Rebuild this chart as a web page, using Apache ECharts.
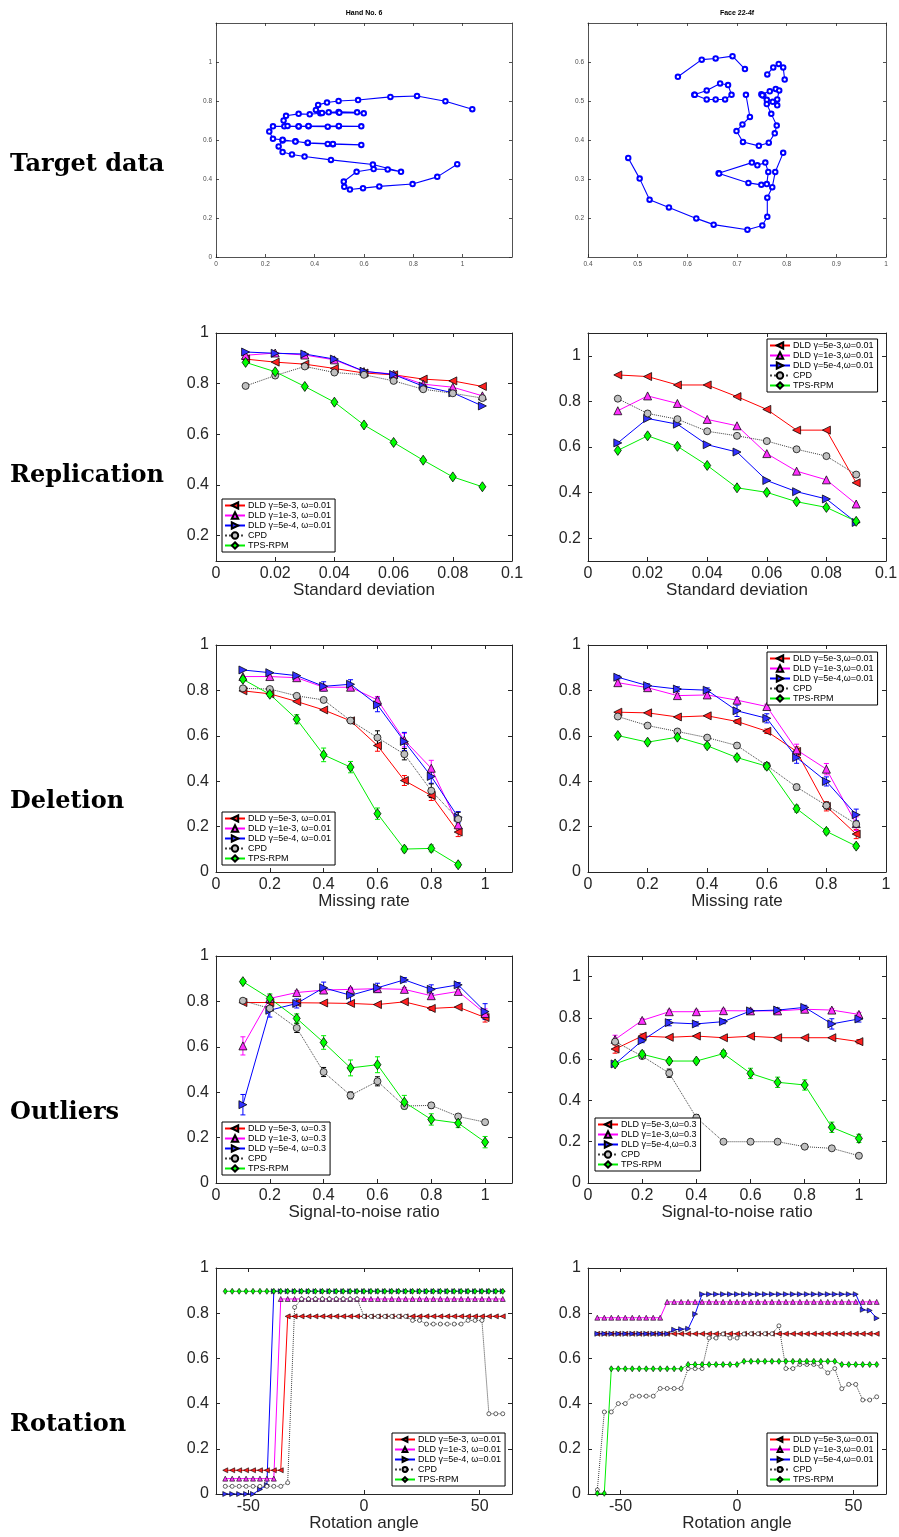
<!DOCTYPE html>
<html><head><meta charset="utf-8">
<script src="https://cdn.jsdelivr.net/npm/echarts@6/dist/echarts.min.js"></script>
<style>html,body{margin:0;padding:0;background:#fff}#c{width:899px;height:1537px}</style>
</head><body><div id="c"></div><script>
// ---------------- DATA ----------------
const handPts = [
 [0.978,0.476],[0.897,0.411],[0.797,0.374],[0.662,0.362],[0.596,0.353],[0.543,0.346],[0.520,0.360],[0.518,0.387],[0.570,0.437],[0.639,0.451],[0.696,0.449],[0.750,0.437],
 [0.636,0.474],[0.466,0.498],[0.359,0.515],[0.308,0.526],[0.270,0.538],[0.254,0.567],
 [0.270,0.597],[0.322,0.594],[0.372,0.584],[0.453,0.580],[0.474,0.578],[0.589,0.575],
 [0.474,0.580],[0.372,0.586],[0.322,0.592],[0.270,0.601],[0.231,0.606],[0.216,0.643],[0.231,0.670],
 [0.277,0.670],[0.335,0.669],[0.375,0.670],[0.453,0.668],[0.498,0.670],[0.589,0.670],
 [0.498,0.672],[0.375,0.672],[0.335,0.670],[0.290,0.672],[0.274,0.700],[0.284,0.724],[0.335,0.734],[0.380,0.732],
 [0.423,0.737],[0.457,0.742],[0.497,0.744],[0.572,0.742],[0.599,0.737],[0.500,0.740],[0.430,0.739],
 [0.405,0.754],[0.414,0.780],[0.450,0.792],[0.497,0.800],[0.576,0.805],[0.707,0.821],[0.815,0.826],[0.930,0.799],[1.039,0.758]
];
const faceBrowL = [[0.581,0.562],[0.629,0.606],[0.657,0.609],[0.691,0.615],[0.716,0.582]];
const faceBrowR = [[0.761,0.568],[0.773,0.586],[0.784,0.595],[0.793,0.586],[0.796,0.555]];
const faceEyeL = [[0.614,0.516],[0.639,0.527],[0.666,0.545],[0.682,0.541],[0.689,0.516],[0.676,0.504],[0.657,0.504],[0.639,0.504],[0.615,0.516]];
const faceEyeR = [[0.749,0.517],[0.766,0.525],[0.778,0.531],[0.785,0.527],[0.781,0.504],[0.781,0.489],[0.772,0.498],[0.760,0.503],[0.753,0.514]];
const faceNose = [[0.718,0.516],[0.726,0.459],[0.711,0.440],[0.699,0.423],[0.712,0.395],[0.744,0.385],[0.764,0.393],[0.776,0.417],[0.780,0.437],[0.769,0.467],[0.760,0.492],[0.751,0.515]];
const faceMouth = [[0.663,0.315],[0.730,0.342],[0.741,0.335],[0.757,0.342],[0.763,0.318],[0.760,0.287],[0.749,0.285],[0.723,0.290],[0.664,0.314]];
const faceJaw = [[0.481,0.354],[0.504,0.301],[0.524,0.247],[0.563,0.227],[0.618,0.199],[0.653,0.183],[0.721,0.170],[0.751,0.181],[0.761,0.203],[0.761,0.252],[0.771,0.279],[0.777,0.318],[0.793,0.367]];

const namesA = ['DLD \u03b3=5e-3, \u03c9=0.01','DLD \u03b3=1e-3, \u03c9=0.01','DLD \u03b3=5e-4, \u03c9=0.01','CPD','TPS-RPM'];
const namesB = ['DLD \u03b3=5e-3,\u03c9=0.01','DLD \u03b3=1e-3,\u03c9=0.01','DLD \u03b3=5e-4,\u03c9=0.01','CPD','TPS-RPM'];
const namesC = ['DLD \u03b3=5e-3, \u03c9=0.3','DLD \u03b3=1e-3, \u03c9=0.3','DLD \u03b3=5e-4, \u03c9=0.3','CPD','TPS-RPM'];
const namesD = ['DLD \u03b3=5e-3,\u03c9=0.3','DLD \u03b3=1e-3,\u03c9=0.3','DLD \u03b3=5e-4,\u03c9=0.3','CPD','TPS-RPM'];

const handXTicks = [0,0.2,0.4,0.6,0.8,1];
const handYTicks = [0,0.2,0.4,0.6,0.8,1];
const faceXTicks = [0.4,0.5,0.6,0.7,0.8,0.9,1];
const faceYTicks = [0.2,0.3,0.4,0.5,0.6];
const repXTicks = [0,0.02,0.04,0.06,0.08,0.1];
const repYTicks = [0.2,0.4,0.6,0.8,1];
const rateXTicks = [0,0.2,0.4,0.6,0.8,1];
const rateYTicks = [0,0.2,0.4,0.6,0.8,1];
const rotXTicks = [-50,0,50];

// Replication
const repX = [0.01,0.02,0.03,0.04,0.05,0.06,0.07,0.08,0.09];
const repL_dld5e3 = [0.897,0.885,0.877,0.860,0.842,0.835,0.818,0.811,0.789];
const repL_dld1e3 = [0.912,0.921,0.913,0.894,0.848,0.838,0.798,0.786,0.752];
const repL_dld5e4 = [0.925,0.920,0.917,0.897,0.849,0.836,0.790,0.764,0.712];
const repL_cpd    = [0.791,0.832,0.868,0.844,0.835,0.811,0.778,0.762,0.743];
const repL_tps    = [0.884,0.847,0.789,0.727,0.637,0.568,0.498,0.432,0.393];
const repR_dld5e3 = [0.916,0.909,0.872,0.872,0.821,0.765,0.674,0.674,0.443];
const repR_dld1e3 = [0.759,0.824,0.791,0.721,0.693,0.571,0.494,0.456,0.350];
const repR_dld5e4 = [0.618,0.725,0.700,0.610,0.578,0.453,0.404,0.372,0.269];
const repR_cpd    = [0.812,0.747,0.722,0.669,0.649,0.626,0.590,0.560,0.479];
const repR_tps    = [0.585,0.649,0.603,0.519,0.421,0.401,0.360,0.335,0.274];

// Deletion
const delX = [0.1,0.2,0.3,0.4,0.5,0.6,0.7,0.8,0.9];
const delL_dld5e3 = [0.798,0.785,0.751,0.714,0.666,0.557,0.403,0.337,0.176];
const delL_dld1e3 = [0.861,0.861,0.856,0.814,0.814,0.758,0.581,0.457,0.208];
const delL_dld5e4 = [0.890,0.878,0.865,0.818,0.827,0.736,0.575,0.421,0.241];
const delL_cpd    = [0.809,0.806,0.776,0.758,0.667,0.592,0.519,0.358,0.233];
const delL_tps    = [0.849,0.783,0.673,0.516,0.462,0.257,0.101,0.104,0.032];
const delL_dld5e3_err = [0.005,0.005,0.005,0.005,0.010,0.025,0.022,0.022,0.020];
const delL_dld1e3_err = [0.005,0.005,0.005,0.010,0.012,0.015,0.030,0.035,0.030];
const delL_dld5e4_err = [0.005,0.005,0.005,0.020,0.020,0.030,0.040,0.030,0.025];
const delL_cpd_err    = [0.008,0.005,0.008,0.010,0.010,0.030,0.025,0.030,0.030];
const delL_tps_err    = [0.008,0.010,0.020,0.030,0.025,0.025,0.012,0.015,0.010];
const delR_dld5e3 = [0.704,0.701,0.683,0.688,0.663,0.620,0.531,0.289,0.167];
const delR_dld1e3 = [0.834,0.812,0.777,0.780,0.757,0.729,0.538,0.453,0.213];
const delR_dld5e4 = [0.858,0.821,0.806,0.801,0.710,0.677,0.504,0.399,0.252];
const delR_cpd    = [0.685,0.645,0.619,0.592,0.557,0.469,0.374,0.293,0.211];
const delR_tps    = [0.601,0.572,0.594,0.556,0.504,0.466,0.279,0.179,0.114];
const delR_dld5e3_err = [0.005,0.005,0.005,0.005,0.008,0.010,0.020,0.020,0.020];
const delR_dld1e3_err = [0.008,0.010,0.010,0.010,0.010,0.010,0.025,0.025,0.030];
const delR_dld5e4_err = [0.008,0.008,0.010,0.010,0.025,0.020,0.025,0.020,0.025];
const delR_cpd_err    = [0.005,0.008,0.008,0.008,0.010,0.010,0.012,0.015,0.012];
const delR_tps_err    = [0.008,0.008,0.008,0.010,0.012,0.015,0.015,0.012,0.010];

// Outliers
const outX = [0.1,0.2,0.3,0.4,0.5,0.6,0.7,0.8,0.9,1.0];
const outL_dld5e3 = [0.795,0.795,0.794,0.793,0.791,0.786,0.798,0.769,0.775,0.729];
const outL_dld1e3 = [0.604,0.813,0.839,0.850,0.853,0.856,0.853,0.825,0.844,0.747];
const outL_dld5e4 = [0.345,0.761,0.791,0.860,0.827,0.860,0.895,0.853,0.873,0.755];
const outL_cpd    = [0.803,0.769,0.683,0.489,0.386,0.448,0.339,0.342,0.293,0.268];
const outL_tps    = [0.887,0.813,0.725,0.619,0.507,0.521,0.356,0.280,0.264,0.180];
const outL_dld5e3_err = [0.005,0.005,0.005,0.005,0.005,0.005,0.005,0.008,0.005,0.020];
const outL_dld1e3_err = [0.040,0.015,0.008,0.008,0.008,0.008,0.008,0.010,0.008,0.020];
const outL_dld5e4_err = [0.045,0.030,0.020,0.025,0.030,0.020,0.010,0.020,0.010,0.035];
const outL_cpd_err    = [0.010,0.010,0.020,0.020,0.015,0.020,0.010,0.012,0.010,0.010];
const outL_tps_err    = [0.008,0.020,0.020,0.030,0.035,0.035,0.030,0.025,0.020,0.025];
const outR_dld5e3 = [0.649,0.712,0.706,0.712,0.704,0.711,0.704,0.704,0.704,0.685];
const outR_dld1e3 = [0.696,0.788,0.830,0.830,0.835,0.834,0.834,0.842,0.838,0.817];
const outR_dld5e4 = [0.577,0.690,0.777,0.771,0.782,0.834,0.838,0.851,0.771,0.795];
const outR_cpd    = [0.685,0.615,0.532,0.317,0.200,0.200,0.200,0.176,0.168,0.132];
const outR_tps    = [0.577,0.624,0.591,0.591,0.627,0.531,0.488,0.475,0.270,0.216];
const outR_dld5e3_err = [0.020,0.010,0.005,0.005,0.005,0.005,0.005,0.005,0.005,0.010];
const outR_dld1e3_err = [0.020,0.008,0.008,0.008,0.008,0.008,0.008,0.008,0.008,0.010];
const outR_dld5e4_err = [0.010,0.010,0.015,0.010,0.010,0.008,0.010,0.010,0.025,0.015];
const outR_cpd_err    = [0.010,0.010,0.020,0.015,0.008,0.008,0.008,0.005,0.005,0.005];
const outR_tps_err    = [0.010,0.015,0.010,0.010,0.015,0.025,0.025,0.025,0.025,0.020];

// Rotation
const rotX = [-60,-57,-54,-51,-48,-45,-42,-39,-36,-33,-30,-27,-24,-21,-18,-15,-12,-9,-6,-3,0,3,6,9,12,15,18,21,24,27,30,33,36,39,42,45,48,51,54,57,60];
const rotL_dld5e3 = [0.105,0.105,0.105,0.105,0.105,0.105,0.105,0.105,0.105,0.786,0.786,0.786,0.786,0.786,0.786,0.786,0.786,0.786,0.786,0.786,0.786,0.786,0.786,0.786,0.786,0.786,0.786,0.786,0.786,0.786,0.786,0.786,0.786,0.786,0.786,0.786,0.786,0.786,0.786,0.786,0.786];
const rotL_dld1e3 = [0.068,0.068,0.068,0.068,0.068,0.068,0.068,0.068,0.863,0.863,0.863,0.863,0.863,0.863,0.863,0.863,0.863,0.863,0.863,0.863,0.863,0.863,0.863,0.863,0.863,0.863,0.863,0.863,0.863,0.863,0.863,0.863,0.863,0.863,0.863,0.863,0.863,0.863,0.863,0.863,0.863];
const rotL_dld5e4 = [0,0,0,0,0,0.02,0.04,0.897,0.897,0.897,0.897,0.897,0.897,0.897,0.897,0.897,0.897,0.897,0.897,0.897,0.897,0.897,0.897,0.897,0.897,0.897,0.897,0.897,0.897,0.897,0.897,0.897,0.897,0.897,0.897,0.897,0.897,0.897,0.897,0.897,0.897];
const rotL_cpd    = [0.034,0.034,0.034,0.034,0.034,0.034,0.034,0.034,0.034,0.05,0.826,0.863,0.863,0.863,0.863,0.863,0.863,0.863,0.863,0.863,0.786,0.786,0.786,0.786,0.786,0.786,0.786,0.768,0.768,0.752,0.752,0.752,0.752,0.752,0.752,0.768,0.768,0.768,0.355,0.355,0.355];
const rotL_tps    = [0.897,0.897,0.897,0.897,0.897,0.897,0.897,0.897,0.897,0.897,0.897,0.897,0.897,0.897,0.897,0.897,0.897,0.897,0.897,0.897,0.897,0.897,0.897,0.897,0.897,0.897,0.897,0.897,0.897,0.897,0.897,0.897,0.897,0.897,0.897,0.897,0.897,0.897,0.897,0.897,0.897];
const rotR_dld5e3 = [0.709,0.709,0.709,0.709,0.709,0.709,0.709,0.709,0.709,0.709,0.709,0.709,0.709,0.709,0.709,0.709,0.709,0.709,0.709,0.709,0.709,0.709,0.709,0.709,0.709,0.709,0.709,0.709,0.709,0.709,0.709,0.709,0.709,0.709,0.709,0.709,0.709,0.709,0.709,0.709,0.709];
const rotR_dld1e3 = [0.780,0.780,0.780,0.780,0.780,0.780,0.780,0.780,0.780,0.780,0.850,0.850,0.850,0.850,0.850,0.850,0.850,0.850,0.850,0.850,0.850,0.850,0.850,0.850,0.850,0.850,0.850,0.850,0.850,0.850,0.850,0.850,0.850,0.850,0.850,0.850,0.850,0.850,0.850,0.850,0.850];
const rotR_dld5e4 = [0.709,0.709,0.709,0.709,0.709,0.709,0.709,0.709,0.709,0.709,0.709,0.727,0.729,0.731,0.796,0.884,0.884,0.884,0.884,0.884,0.884,0.884,0.884,0.884,0.884,0.884,0.884,0.884,0.884,0.884,0.884,0.884,0.884,0.884,0.884,0.884,0.884,0.884,0.815,0.812,0.778];
const rotR_cpd    = [0.018,0.363,0.363,0.400,0.400,0.433,0.433,0.433,0.433,0.467,0.467,0.467,0.467,0.555,0.555,0.555,0.690,0.690,0.708,0.690,0.690,0.708,0.709,0.709,0.709,0.709,0.744,0.555,0.555,0.573,0.573,0.573,0.565,0.536,0.555,0.466,0.485,0.485,0.416,0.416,0.430];
const rotR_tps    = [0.003,0.003,0.554,0.554,0.554,0.554,0.554,0.554,0.554,0.554,0.554,0.554,0.554,0.573,0.573,0.573,0.573,0.573,0.573,0.573,0.573,0.587,0.587,0.587,0.587,0.587,0.587,0.587,0.587,0.587,0.587,0.587,0.587,0.587,0.587,0.573,0.573,0.573,0.573,0.573,0.573];

// ---------------- BUILD ----------------
const FONT = '"Liberation Sans", Arial, Helvetica, sans-serif';
const AX = '#262626';
const grids = [], xAxes = [], yAxes = [], series = [], legends = [];

function fmt(v){ return String(parseFloat(Number(v).toFixed(4))); }

function addAxes(p){
  const gi = grids.length;
  grids.push({left:p.left, top:p.top, width:p.width, height:p.height, containLabel:false, outerBoundsMode:'none'});
  const small = !!p.small;
  const fs = small ? 6.5 : 16;
  const lc = small ? '#4d4d4d' : AX;
  const lw = small ? 0.8 : 1;
  const tl = small ? 3 : 4;
  const xi = xAxes.length, yi = yAxes.length;
  const common = (ticks)=>({
    axisLine:{show:true, onZero:false, lineStyle:{color:AX, width:lw}},
    axisTick:{show:true, inside:true, length:tl, customValues:ticks, lineStyle:{color:AX, width:lw}},
    splitLine:{show:false}, minorTick:{show:false}
  });
  xAxes.push(Object.assign({type:'value', gridIndex:gi, position:'bottom', min:p.xMin, max:p.xMax,
    axisLabel:{show:true, customValues:p.xTicks, formatter:fmt, fontSize:fs, color:lc, fontFamily:FONT, margin:small?4:5},
    name:p.xName||'', nameLocation:'middle', nameGap:21, nameMoveOverlap:false,
    nameTextStyle:{fontSize:17, color:AX, fontFamily:FONT}}, common(p.xTicks)));
  xAxes.push(Object.assign({type:'value', gridIndex:gi, position:'top', min:p.xMin, max:p.xMax,
    axisLabel:{show:false}}, common(p.xTicks)));
  yAxes.push(Object.assign({type:'value', gridIndex:gi, position:'left', min:p.yMin, max:p.yMax,
    axisLabel:{show:true, customValues:p.yTicks, formatter:fmt, fontSize:fs, color:lc, fontFamily:FONT, margin:small?4:7}}, common(p.yTicks)));
  yAxes.push(Object.assign({type:'value', gridIndex:gi, position:'right', min:p.yMin, max:p.yMax,
    axisLabel:{show:false}}, common(p.yTicks)));
  return {xi, yi};
}

const methodStyles = [
  {line:'#ff0000', fill:'#ff2020', symbol:'triangle', rotate:90, size:8, rsize:5, type:'solid'},
  {line:'#ff00ff', fill:'#ff30ff', symbol:'triangle', rotate:0, size:8, rsize:5, type:'solid'},
  {line:'#0000ff', fill:'#3030ff', symbol:'triangle', rotate:-90, size:8, rsize:5, type:'solid'},
  {line:'#404040', fill:'#c0c0c0', symbol:'circle', rotate:0, size:7, rsize:4, type:'dotted'},
  {line:'#00ee00', fill:'#00ff00', symbol:'diamond', rotate:0, size:[7,10], rsize:[4,6], type:'solid'}
];

function errSeries(ax, xs, ys, errs, color){
  return {type:'custom', coordinateSystem:'cartesian2d', xAxisIndex:ax.xi, yAxisIndex:ax.yi, silent:true, z:1,
    data: xs.map((x,i)=>[x, ys[i]-errs[i], ys[i]+errs[i]]),
    renderItem:function(params, api){
      const x = api.value(0), lo = api.value(1), hi = api.value(2);
      if (hi - lo < 0.011) return null;
      const a = api.coord([x, lo]), b = api.coord([x, hi]);
      const cw = 2.5, st = {stroke:color, lineWidth:1};
      return {type:'group', children:[
        {type:'line', shape:{x1:a[0],y1:a[1],x2:b[0],y2:b[1]}, style:st},
        {type:'line', shape:{x1:a[0]-cw,y1:a[1],x2:a[0]+cw,y2:a[1]}, style:st},
        {type:'line', shape:{x1:b[0]-cw,y1:b[1],x2:b[0]+cw,y2:b[1]}, style:st}
      ]};
    }};
}

function addResultPanel(p){
  const ax = addAxes(p);
  if (p.errs) {
    p.ys.forEach((ys,k)=>{ series.push(errSeries(ax, p.xs, ys, p.errs[k], k===3 ? '#000' : methodStyles[k].line)); });
  }
  p.ys.forEach((ys,k)=>{
    const s = methodStyles[k];
    series.push({type:'line', name:p.names[k], xAxisIndex:ax.xi, yAxisIndex:ax.yi, z:2,
      data: p.xs.map((x,i)=>[x, ys[i]]),
      symbol:s.symbol, symbolRotate:s.rotate, symbolSize: p.rot ? s.rsize : s.size, showSymbol:true,
      lineStyle:{color:s.line, width:1, type:s.type},
      itemStyle:{color: (p.rot && k===3) ? '#ffffff' : s.fill, borderColor:'#000', borderWidth: p.rot ? 0.6 : 0.75},
      emphasis:{disabled:true}, animation:false});
  });
  legends.push({show:true, left:p.legend.left, top:p.legend.top, orient:'vertical', data:p.names,
    itemWidth:20, itemHeight: p.rot ? 6 : 8, itemGap:1, selectedMode:false,
    padding:[2,4,2,2], borderColor:'#000', borderWidth:1, backgroundColor:'#fff',
    textStyle:{fontSize:9, color:'#000', fontFamily:FONT, padding:[0,0,0,-2]}});
}

// Top row
const handAx = addAxes({left:216, top:23, width:296, height:234, xMin:0, xMax:1.2, yMin:0, yMax:1.2, xTicks:handXTicks, yTicks:handYTicks, small:true});
const faceAx = addAxes({left:588, top:23, width:298, height:234, xMin:0.4, xMax:1, yMin:0.1, yMax:0.7, xTicks:faceXTicks, yTicks:faceYTicks, small:true});
function shapeSeries(ax, pts, name){
  series.push({type:'line', name:name, xAxisIndex:ax.xi, yAxisIndex:ax.yi, data:pts,
    symbol:'emptyCircle', symbolSize:4.5, showSymbol:true,
    lineStyle:{color:'#0000ff', width:1.1}, itemStyle:{color:'#0000ff', borderColor:'#0000ff', borderWidth:1},
    emphasis:{disabled:true}, animation:false});
}
shapeSeries(handAx, handPts, 'hand');
[faceBrowL, faceBrowR, faceEyeL, faceEyeR, faceNose, faceMouth, faceJaw].forEach(p=>shapeSeries(faceAx, p, 'face'));

addResultPanel({left:216, top:333, width:296, height:228, xMin:0, xMax:0.1, yMin:0.1, yMax:1, xTicks:repXTicks, yTicks:repYTicks,
  xName:'Standard deviation', xs:repX, ys:[repL_dld5e3,repL_dld1e3,repL_dld5e4,repL_cpd,repL_tps], names:namesA, legend:{left:222, top:499}});
addResultPanel({left:588, top:333, width:298, height:228, xMin:0, xMax:0.1, yMin:0.1, yMax:1.1, xTicks:repXTicks, yTicks:repYTicks,
  xName:'Standard deviation', xs:repX, ys:[repR_dld5e3,repR_dld1e3,repR_dld5e4,repR_cpd,repR_tps], names:namesB, legend:{left:767, top:339}});
addResultPanel({left:216, top:645, width:296, height:227, xMin:0, xMax:1.1, yMin:0, yMax:1, xTicks:rateXTicks, yTicks:rateYTicks,
  xName:'Missing rate', xs:delX, ys:[delL_dld5e3,delL_dld1e3,delL_dld5e4,delL_cpd,delL_tps],
  errs:[delL_dld5e3_err,delL_dld1e3_err,delL_dld5e4_err,delL_cpd_err,delL_tps_err], names:namesA, legend:{left:222, top:812}});
addResultPanel({left:588, top:645, width:298, height:227, xMin:0, xMax:1, yMin:0, yMax:1, xTicks:rateXTicks, yTicks:rateYTicks,
  xName:'Missing rate', xs:delX, ys:[delR_dld5e3,delR_dld1e3,delR_dld5e4,delR_cpd,delR_tps],
  errs:[delR_dld5e3_err,delR_dld1e3_err,delR_dld5e4_err,delR_cpd_err,delR_tps_err], names:namesB, legend:{left:767, top:652}});
addResultPanel({left:216, top:956, width:296, height:227, xMin:0, xMax:1.1, yMin:0, yMax:1, xTicks:rateXTicks, yTicks:rateYTicks,
  xName:'Signal-to-noise ratio', xs:outX, ys:[outL_dld5e3,outL_dld1e3,outL_dld5e4,outL_cpd,outL_tps],
  errs:[outL_dld5e3_err,outL_dld1e3_err,outL_dld5e4_err,outL_cpd_err,outL_tps_err], names:namesC, legend:{left:222, top:1122}});
addResultPanel({left:588, top:956, width:298, height:227, xMin:0, xMax:1.1, yMin:0, yMax:1.1, xTicks:rateXTicks, yTicks:rateYTicks,
  xName:'Signal-to-noise ratio', xs:outX, ys:[outR_dld5e3,outR_dld1e3,outR_dld5e4,outR_cpd,outR_tps],
  errs:[outR_dld5e3_err,outR_dld1e3_err,outR_dld5e4_err,outR_cpd_err,outR_tps_err], names:namesD, legend:{left:595, top:1118}});
addResultPanel({left:216, top:1268, width:296, height:226, xMin:-64, xMax:64, yMin:0, yMax:1, xTicks:rotXTicks, yTicks:rateYTicks,
  xName:'Rotation angle', xs:rotX, ys:[rotL_dld5e3,rotL_dld1e3,rotL_dld5e4,rotL_cpd,rotL_tps], names:namesA, legend:{left:392, top:1433}, rot:true});
addResultPanel({left:588, top:1268, width:298, height:226, xMin:-64, xMax:64, yMin:0, yMax:1, xTicks:rotXTicks, yTicks:rateYTicks,
  xName:'Rotation angle', xs:rotX, ys:[rotR_dld5e3,rotR_dld1e3,rotR_dld5e4,rotR_cpd,rotR_tps], names:namesB, legend:{left:767, top:1433}, rot:true});

function txt(x, y, text, font, align){
  return {type:'text', x:x, y:y, silent:true, style:{text:text, font:font, fill:'#000', align:align||'left', verticalAlign:'middle', textAlign:align||'left', textVerticalAlign:'middle'}};
}
const rowFont = 'bold 24px "DejaVu Serif", serif';
const graphics = [
  txt(364, 13, 'Hand No. 6', 'bold 7px ' + FONT, 'center'),
  txt(737, 13, 'Face 22-4f', 'bold 7px ' + FONT, 'center'),
  txt(10, 165, 'Target data', rowFont),
  txt(10, 476, 'Replication', rowFont),
  txt(10, 802, 'Deletion', rowFont),
  txt(10, 1113, 'Outliers', rowFont),
  txt(10, 1425, 'Rotation', rowFont)
];

const chart = echarts.init(document.getElementById('c'), null, {renderer:'canvas'});
chart.setOption({
  animation:false, backgroundColor:'#fff',
  grid:grids, xAxis:xAxes, yAxis:yAxes, series:series, legend:legends,
  graphic:{elements:graphics}, tooltip:{show:false}
});
</script></body></html>
